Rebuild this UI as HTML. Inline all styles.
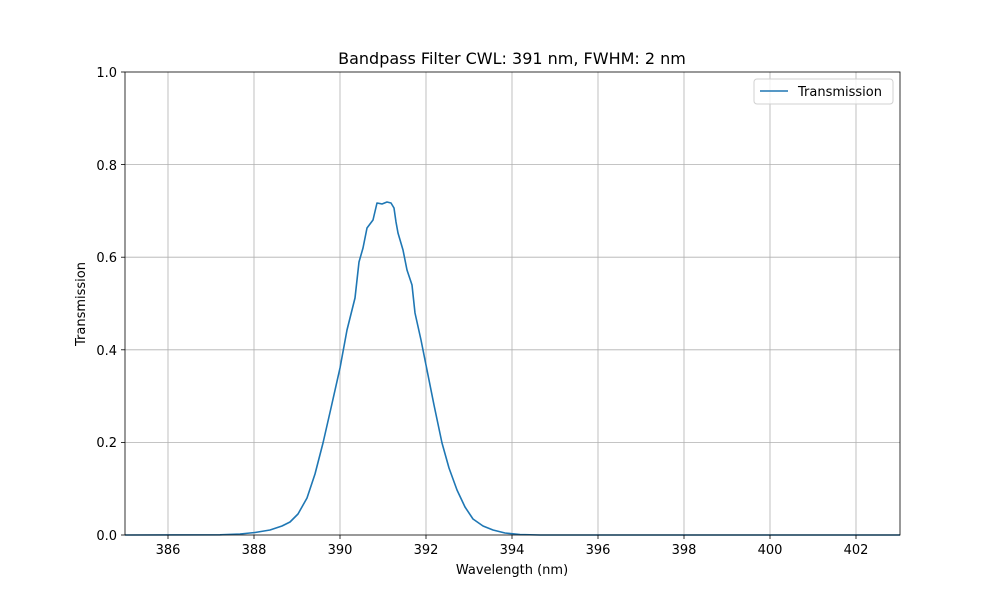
<!DOCTYPE html>
<html><head><meta charset="utf-8"><style>body{margin:0;background:#fff}svg{display:block}text{font-family:"DejaVu Sans","Liberation Sans",sans-serif;fill:#000}</style></head>
<body>
<svg width="1000" height="600" viewBox="0 0 1000 600" xmlns="http://www.w3.org/2000/svg">
<rect width="1000" height="600" fill="#fff"/>
<g stroke="#b0b0b0" stroke-width="0.8">
<line x1="168" y1="72" x2="168" y2="535"/><line x1="254" y1="72" x2="254" y2="535"/>
<line x1="340" y1="72" x2="340" y2="535"/><line x1="426" y1="72" x2="426" y2="535"/>
<line x1="512" y1="72" x2="512" y2="535"/><line x1="598" y1="72" x2="598" y2="535"/>
<line x1="684" y1="72" x2="684" y2="535"/><line x1="770" y1="72" x2="770" y2="535"/>
<line x1="856" y1="72" x2="856" y2="535"/>
<line x1="125" y1="442.4" x2="900" y2="442.4"/><line x1="125" y1="349.8" x2="900" y2="349.8"/>
<line x1="125" y1="257.2" x2="900" y2="257.2"/><line x1="125" y1="164.6" x2="900" y2="164.6"/>
</g>
<polyline fill="none" stroke="#1f77b4" stroke-width="1.6" stroke-linejoin="round" points="125,535 220,534.8 240,534 255,532.5 270,530 282,526 290,522 298,514 307,498 315,474 323,443 331,408 340,368 347,330 355,298 357,280 359,262 363,248 367,228 373,220 377,203 382,204 387,202 391,203 394,208 396,222 398,233 403,250 407,270 412,285 415,313 421,340 427,370 434,405 442,443 449,468 457,490 465,507 473,519 483,526 493,530 505,533 520,534.5 540,535 900,535"/>
<rect x="125" y="72" width="775" height="463" fill="none" stroke="#000" stroke-width="0.8"/>
<g stroke="#000" stroke-width="0.8">
<line x1="168" y1="535" x2="168" y2="539"/><line x1="254" y1="535" x2="254" y2="539"/>
<line x1="340" y1="535" x2="340" y2="539"/><line x1="426" y1="535" x2="426" y2="539"/>
<line x1="512" y1="535" x2="512" y2="539"/><line x1="598" y1="535" x2="598" y2="539"/>
<line x1="684" y1="535" x2="684" y2="539"/><line x1="770" y1="535" x2="770" y2="539"/>
<line x1="856" y1="535" x2="856" y2="539"/>
<line x1="121" y1="535" x2="125" y2="535"/><line x1="121" y1="442.4" x2="125" y2="442.4"/>
<line x1="121" y1="349.8" x2="125" y2="349.8"/><line x1="121" y1="257.2" x2="125" y2="257.2"/>
<line x1="121" y1="164.6" x2="125" y2="164.6"/><line x1="121" y1="72" x2="125" y2="72"/>
</g>
<g font-size="13" text-anchor="middle">
<text x="168" y="554">386</text><text x="254" y="554">388</text><text x="340" y="554">390</text>
<text x="426" y="554">392</text><text x="512" y="554">394</text><text x="598" y="554">396</text>
<text x="684" y="554">398</text><text x="770" y="554">400</text><text x="856" y="554">402</text>
<text x="512" y="574">Wavelength (nm)</text>
</g>
<g font-size="13" text-anchor="end">
<text x="117" y="540">0.0</text><text x="117" y="447">0.2</text><text x="117" y="355">0.4</text>
<text x="117" y="262">0.6</text><text x="117" y="170">0.8</text><text x="117" y="77">1.0</text>
</g>
<text x="85" y="304" font-size="13" text-anchor="middle" transform="rotate(-90 85 304)">Transmission</text>
<text x="512" y="64" font-size="16" text-anchor="middle">Bandpass Filter CWL: 391 nm, FWHM: 2 nm</text>
<rect x="754" y="79" width="139" height="25" rx="3" fill="#fff" fill-opacity="0.8" stroke="#d0d0d0"/>
<line x1="760" y1="91" x2="788" y2="91" stroke="#1f77b4" stroke-width="1.5"/>
<text x="798" y="96" font-size="13">Transmission</text>
</svg>
</body></html>
